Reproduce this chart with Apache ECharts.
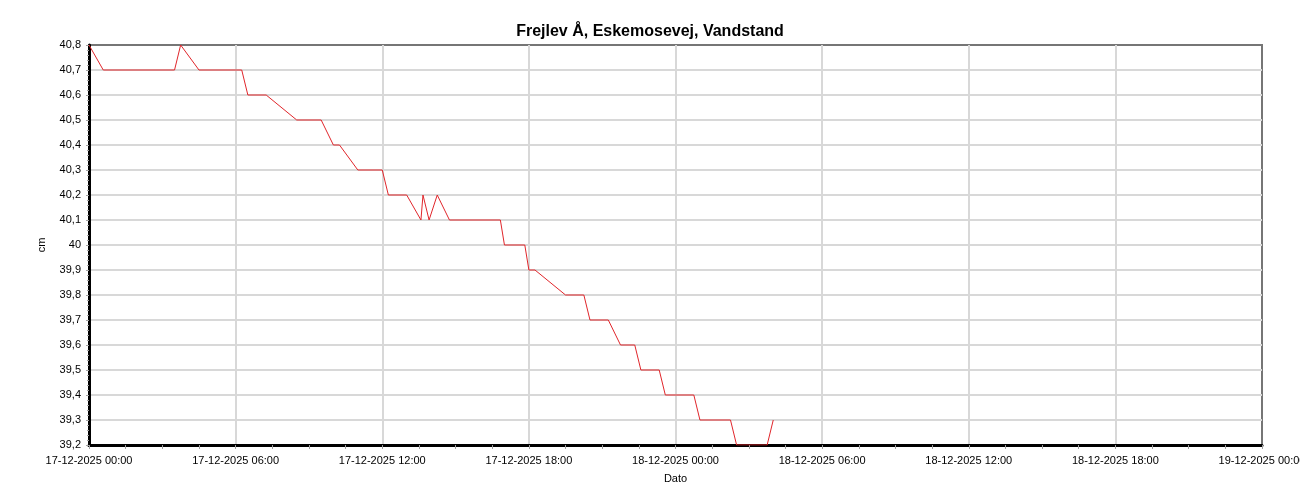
<!DOCTYPE html>
<html>
<head>
<meta charset="utf-8">
<script src="https://cdn.jsdelivr.net/npm/echarts@6/dist/echarts.min.js"></script>
<style>
html,body{margin:0;padding:0;background:#fff;}
#chart{width:1300px;height:500px;}
</style>
</head>
<body>
<div id="chart"></div>
<script>
// Data
const title = 'Frejlev Å, Eskemosevej, Vandstand';
const times = [
  '2025-12-17 00:00','2025-12-17 00:35','2025-12-17 03:30','2025-12-17 03:45',
  '2025-12-17 04:30','2025-12-17 06:15','2025-12-17 06:30','2025-12-17 07:15',
  '2025-12-17 08:30','2025-12-17 09:30','2025-12-17 10:00','2025-12-17 10:15',
  '2025-12-17 11:00','2025-12-17 12:00','2025-12-17 12:15','2025-12-17 13:00',
  '2025-12-17 13:35','2025-12-17 13:40','2025-12-17 13:55','2025-12-17 14:15',
  '2025-12-17 14:45','2025-12-17 16:50','2025-12-17 17:00','2025-12-17 17:50',
  '2025-12-17 18:00','2025-12-17 18:15','2025-12-17 19:30','2025-12-17 20:15',
  '2025-12-17 20:30','2025-12-17 21:15','2025-12-17 21:45','2025-12-17 22:20',
  '2025-12-17 22:35','2025-12-17 23:20','2025-12-17 23:35','2025-12-18 00:45',
  '2025-12-18 01:00','2025-12-18 02:15','2025-12-18 02:30','2025-12-18 03:45',
  '2025-12-18 04:00'
];
const levels = [
  40.8,40.7,40.7,40.8,
  40.7,40.7,40.6,40.6,
  40.5,40.5,40.4,40.4,
  40.3,40.3,40.2,40.2,
  40.1,40.2,40.1,40.2,
  40.1,40.1,40.0,40.0,
  39.9,39.9,39.8,39.8,
  39.7,39.7,39.6,39.6,
  39.5,39.5,39.4,39.4,
  39.3,39.3,39.2,39.2,
  39.3
];
const xTickLabels = [
  '17-12-2025 00:00','17-12-2025 06:00','17-12-2025 12:00','17-12-2025 18:00',
  '18-12-2025 00:00','18-12-2025 06:00','18-12-2025 12:00','18-12-2025 18:00',
  '19-12-2025 00:00'
];
const yAxisName = 'cm';
const xAxisName = 'Dato';

// hours since 17-12-2025 00:00
function toHours(s){
  const [d, t] = s.split(' ');
  const day = parseInt(d.split('-')[2], 10);
  const [h, m] = t.split(':').map(Number);
  return (day - 17) * 24 + h + m / 60;
}
const seriesData = times.map((t, i) => [toHours(t), levels[i]]);

const font = 'Liberation Sans, Arial, sans-serif';
const chart = echarts.init(document.getElementById('chart'), null, {renderer: 'canvas'});
chart.setOption({
  animation: false,
  backgroundColor: '#fff',
  title: {
    text: title,
    left: 'center',
    top: 19,
    textStyle: {fontFamily: font, fontSize: 16, fontWeight: 'bold', color: '#000'}
  },
  grid: {
    left: 89, right: 38, top: 45, bottom: 55,
    outerBoundsMode: 'none',
    containLabel: false,
    show: true, borderColor: '#767676', borderWidth: 2, backgroundColor: '#fff'
  },
  xAxis: {
    type: 'value',
    min: 0, max: 48, interval: 6,
    name: xAxisName,
    nameLocation: 'middle',
    nameGap: 28,
    nameTextStyle: {fontFamily: font, fontSize: 11, color: '#000'},
    axisLine: {show: true, onZero: false, lineStyle: {color: '#000', width: 3}},
    axisTick: {show: true, length: 4, lineStyle: {color: '#a0a0a0', width: 1}},
    minorTick: {show: true, splitNumber: 4, length: 4, lineStyle: {color: '#a0a0a0', width: 1}},
    axisLabel: {
      fontFamily: font, fontSize: 11, color: '#000', margin: 10,
      showMinLabel: true, showMaxLabel: true, hideOverlap: false,
      formatter: v => xTickLabels[Math.round(v / 6)] || ''
    },
    splitLine: {show: true, showMinLine: false, showMaxLine: false, lineStyle: {color: '#d8d8d8', width: 2}}
  },
  yAxis: {
    type: 'value',
    min: 39.2, max: 40.8, interval: 0.1,
    name: yAxisName,
    nameLocation: 'middle',
    nameGap: 42,
    nameRotate: 90,
    nameTextStyle: {fontFamily: font, fontSize: 11, color: '#000'},
    axisLine: {show: true, onZero: false, lineStyle: {color: '#000', width: 3}},
    axisTick: {show: true, length: 3, lineStyle: {color: '#a0a0a0', width: 1}},
    minorTick: {show: true, splitNumber: 5, length: 2, lineStyle: {color: '#a0a0a0', width: 1}},
    axisLabel: {
      fontFamily: font, fontSize: 11, color: '#000', margin: 8,
      formatter: v => String(Math.round(v * 10) / 10).replace('.', ',')
    },
    splitLine: {show: true, showMinLine: false, showMaxLine: false, lineStyle: {color: '#d8d8d8', width: 2}}
  },
  series: [{
    type: 'line',
    data: seriesData,
    showSymbol: false,
    symbol: 'none',
    lineStyle: {color: '#e0262b', width: 1},
    z: 5
  }]
});
</script>
</body>
</html>
